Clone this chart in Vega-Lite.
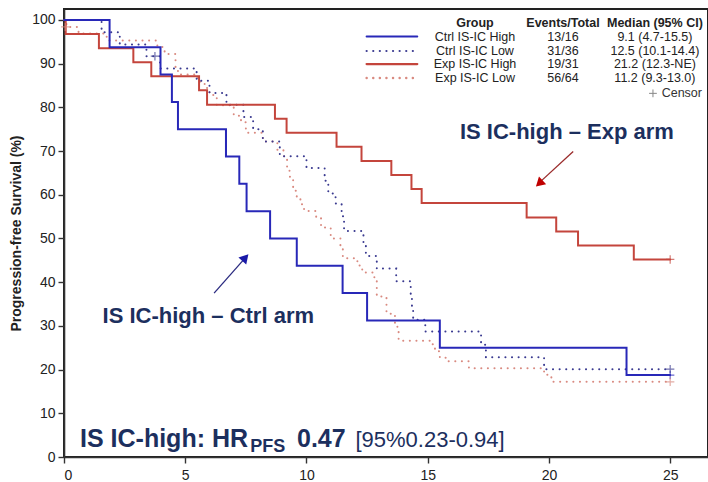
{
  "$schema": "https://vega.github.io/schema/vega-lite/v6.json",
  "width": 644,
  "height": 448,
  "autosize": {"type": "none"},
  "padding": {"left": 64, "top": 9, "right": 0, "bottom": 25},
  "background": "white",
  "config": {
    "font": "Liberation Sans",
    "view": {"stroke": "#222222", "strokeWidth": 2},
    "axis": {"grid": false, "domainColor": "#333333", "domainWidth": 1.6, "tickColor": "#333333", "tickWidth": 1.4, "tickSize": 6, "labelFontSize": 14, "labelColor": "#222222", "labelFont": "Liberation Sans", "labelPadding": 3}
  },
  "encoding": {
    "x": {"field": "x", "type": "quantitative", "scale": {"domain": [0, 26.56], "nice": false, "zero": false}, "axis": {"values": [0, 5, 10, 15, 20, 25], "title": null, "labelPadding": 5}},
    "y": {"field": "y", "type": "quantitative", "scale": {"domain": [0, 102.5], "nice": false}, "axis": {"values": [0, 10, 20, 30, 40, 50, 60, 70, 80, 90, 100], "title": "Progression-free Survival (%)", "titleFontSize": 14, "titleFontWeight": "bold", "titleColor": "#222222", "titlePadding": 8, "titleFont": "Liberation Sans"}}
  },
  "layer": [
    {
      "data": {"values": [
        {"g": "Exp IS-IC Low", "x": 0, "y": 100}, {"g": "Exp IS-IC Low", "x": 0.1, "y": 98.4}, {"g": "Exp IS-IC Low", "x": 0.6, "y": 96.9}, {"g": "Exp IS-IC Low", "x": 1.76, "y": 95.3}, {"g": "Exp IS-IC Low", "x": 3.85, "y": 93.8}, {"g": "Exp IS-IC Low", "x": 4.15, "y": 92.2}, {"g": "Exp IS-IC Low", "x": 4.6, "y": 89.1}, {"g": "Exp IS-IC Low", "x": 4.7, "y": 87.5}, {"g": "Exp IS-IC Low", "x": 5.5, "y": 85.9}, {"g": "Exp IS-IC Low", "x": 5.8, "y": 84.4}, {"g": "Exp IS-IC Low", "x": 6.0, "y": 82.8}, {"g": "Exp IS-IC Low", "x": 6.3, "y": 80.5}, {"g": "Exp IS-IC Low", "x": 7.0, "y": 78.1}, {"g": "Exp IS-IC Low", "x": 7.3, "y": 76.6}, {"g": "Exp IS-IC Low", "x": 7.5, "y": 74.2}, {"g": "Exp IS-IC Low", "x": 8.2, "y": 72.2}, {"g": "Exp IS-IC Low", "x": 8.8, "y": 70.3}, {"g": "Exp IS-IC Low", "x": 9.05, "y": 68.8}, {"g": "Exp IS-IC Low", "x": 9.2, "y": 65.6}, {"g": "Exp IS-IC Low", "x": 9.3, "y": 64.1}, {"g": "Exp IS-IC Low", "x": 9.45, "y": 60.9}, {"g": "Exp IS-IC Low", "x": 9.6, "y": 59.4}, {"g": "Exp IS-IC Low", "x": 9.75, "y": 57.8}, {"g": "Exp IS-IC Low", "x": 9.9, "y": 56.3}, {"g": "Exp IS-IC Low", "x": 10.4, "y": 54.7}, {"g": "Exp IS-IC Low", "x": 10.6, "y": 52.5}, {"g": "Exp IS-IC Low", "x": 11.0, "y": 50.0}, {"g": "Exp IS-IC Low", "x": 11.4, "y": 48.4}, {"g": "Exp IS-IC Low", "x": 11.5, "y": 45.5}, {"g": "Exp IS-IC Low", "x": 12.1, "y": 43.8}, {"g": "Exp IS-IC Low", "x": 12.3, "y": 42.2}, {"g": "Exp IS-IC Low", "x": 12.8, "y": 40.6}, {"g": "Exp IS-IC Low", "x": 12.9, "y": 36.7}, {"g": "Exp IS-IC Low", "x": 13.3, "y": 32.8}, {"g": "Exp IS-IC Low", "x": 13.65, "y": 30.5}, {"g": "Exp IS-IC Low", "x": 13.75, "y": 28.6}, {"g": "Exp IS-IC Low", "x": 13.8, "y": 26.6}, {"g": "Exp IS-IC Low", "x": 15.1, "y": 25.8}, {"g": "Exp IS-IC Low", "x": 15.3, "y": 24.2}, {"g": "Exp IS-IC Low", "x": 15.5, "y": 22.7}, {"g": "Exp IS-IC Low", "x": 15.8, "y": 21.9}, {"g": "Exp IS-IC Low", "x": 16.7, "y": 20.3}, {"g": "Exp IS-IC Low", "x": 19.8, "y": 18.8}, {"g": "Exp IS-IC Low", "x": 20.1, "y": 17.2}, {"g": "Exp IS-IC Low", "x": 25.0, "y": 17.2},
        {"g": "Ctrl IS-IC Low", "x": 0, "y": 100}, {"g": "Ctrl IS-IC Low", "x": 1.55, "y": 97.2}, {"g": "Ctrl IS-IC Low", "x": 2.3, "y": 94.4}, {"g": "Ctrl IS-IC Low", "x": 3.4, "y": 91.7}, {"g": "Ctrl IS-IC Low", "x": 3.96, "y": 88.9}, {"g": "Ctrl IS-IC Low", "x": 5.47, "y": 86.1}, {"g": "Ctrl IS-IC Low", "x": 6.0, "y": 83.3}, {"g": "Ctrl IS-IC Low", "x": 6.7, "y": 80.6}, {"g": "Ctrl IS-IC Low", "x": 7.4, "y": 77.8}, {"g": "Ctrl IS-IC Low", "x": 7.8, "y": 75.0}, {"g": "Ctrl IS-IC Low", "x": 8.2, "y": 72.2}, {"g": "Ctrl IS-IC Low", "x": 8.9, "y": 68.8}, {"g": "Ctrl IS-IC Low", "x": 10.0, "y": 66.1}, {"g": "Ctrl IS-IC Low", "x": 10.75, "y": 63.2}, {"g": "Ctrl IS-IC Low", "x": 10.9, "y": 60.3}, {"g": "Ctrl IS-IC Low", "x": 11.2, "y": 58.0}, {"g": "Ctrl IS-IC Low", "x": 11.45, "y": 55.1}, {"g": "Ctrl IS-IC Low", "x": 11.55, "y": 51.7}, {"g": "Ctrl IS-IC Low", "x": 12.35, "y": 48.8}, {"g": "Ctrl IS-IC Low", "x": 12.45, "y": 46.0}, {"g": "Ctrl IS-IC Low", "x": 12.9, "y": 43.1}, {"g": "Ctrl IS-IC Low", "x": 13.7, "y": 40.2}, {"g": "Ctrl IS-IC Low", "x": 14.3, "y": 37.3}, {"g": "Ctrl IS-IC Low", "x": 14.35, "y": 34.4}, {"g": "Ctrl IS-IC Low", "x": 14.4, "y": 31.4}, {"g": "Ctrl IS-IC Low", "x": 14.9, "y": 28.7}, {"g": "Ctrl IS-IC Low", "x": 17.2, "y": 25.7}, {"g": "Ctrl IS-IC Low", "x": 17.4, "y": 22.8}, {"g": "Ctrl IS-IC Low", "x": 19.8, "y": 20.1}, {"g": "Ctrl IS-IC Low", "x": 25.0, "y": 20.1},
        {"g": "Exp IS-IC High", "x": 0, "y": 100}, {"g": "Exp IS-IC High", "x": 0.07, "y": 96.8}, {"g": "Exp IS-IC High", "x": 1.44, "y": 93.5}, {"g": "Exp IS-IC High", "x": 2.86, "y": 90.3}, {"g": "Exp IS-IC High", "x": 3.6, "y": 87.1}, {"g": "Exp IS-IC High", "x": 5.57, "y": 83.9}, {"g": "Exp IS-IC High", "x": 5.9, "y": 80.6}, {"g": "Exp IS-IC High", "x": 8.7, "y": 77.4}, {"g": "Exp IS-IC High", "x": 9.18, "y": 74.2}, {"g": "Exp IS-IC High", "x": 11.24, "y": 71.0}, {"g": "Exp IS-IC High", "x": 12.27, "y": 67.7}, {"g": "Exp IS-IC High", "x": 13.5, "y": 64.5}, {"g": "Exp IS-IC High", "x": 14.33, "y": 61.3}, {"g": "Exp IS-IC High", "x": 14.75, "y": 58.1}, {"g": "Exp IS-IC High", "x": 19.08, "y": 54.8}, {"g": "Exp IS-IC High", "x": 20.3, "y": 51.6}, {"g": "Exp IS-IC High", "x": 21.2, "y": 48.4}, {"g": "Exp IS-IC High", "x": 23.5, "y": 45.2}, {"g": "Exp IS-IC High", "x": 25.0, "y": 45.2},
        {"g": "Ctrl IS-IC High", "x": 0, "y": 100}, {"g": "Ctrl IS-IC High", "x": 1.88, "y": 93.75}, {"g": "Ctrl IS-IC High", "x": 3.98, "y": 87.5}, {"g": "Ctrl IS-IC High", "x": 4.45, "y": 81.25}, {"g": "Ctrl IS-IC High", "x": 4.7, "y": 75}, {"g": "Ctrl IS-IC High", "x": 6.68, "y": 68.75}, {"g": "Ctrl IS-IC High", "x": 7.23, "y": 62.5}, {"g": "Ctrl IS-IC High", "x": 7.53, "y": 56.25}, {"g": "Ctrl IS-IC High", "x": 8.5, "y": 50}, {"g": "Ctrl IS-IC High", "x": 9.6, "y": 43.75}, {"g": "Ctrl IS-IC High", "x": 11.49, "y": 37.5}, {"g": "Ctrl IS-IC High", "x": 12.5, "y": 31.25}, {"g": "Ctrl IS-IC High", "x": 15.5, "y": 25}, {"g": "Ctrl IS-IC High", "x": 23.2, "y": 18.75}, {"g": "Ctrl IS-IC High", "x": 25.0, "y": 18.75}
      ]},
      "mark": {"type": "line", "interpolate": "step-after", "strokeWidth": 2, "strokeCap": "round"},
      "encoding": {
        "color": {"field": "g", "type": "nominal", "scale": {"domain": ["Ctrl IS-IC High", "Ctrl IS-IC Low", "Exp IS-IC High", "Exp IS-IC Low"], "range": ["#2828b8", "#3a3a90", "#c4453c", "#d98a80"]}, "legend": null},
        "strokeDash": {"field": "g", "type": "nominal", "scale": {"domain": ["Ctrl IS-IC High", "Ctrl IS-IC Low", "Exp IS-IC High", "Exp IS-IC Low"], "range": [[1, 0], [0.1, 6.5], [1, 0], [0.1, 6.5]]}, "legend": null},
        "strokeWidth": {"field": "g", "type": "nominal", "scale": {"domain": ["Ctrl IS-IC High", "Ctrl IS-IC Low", "Exp IS-IC High", "Exp IS-IC Low"], "range": [2, 2.4, 2, 2.4]}, "legend": null}
      }
    },
    {
      "data": {"values": [
        {"g": "Ctrl IS-IC High", "x": 12.48, "y": 96.2}, {"g": "Ctrl IS-IC High", "x": 14.57, "y": 96.2},
        {"g": "Ctrl IS-IC Low", "x": 12.48, "y": 92.9}, {"g": "Ctrl IS-IC Low", "x": 14.57, "y": 92.9},
        {"g": "Exp IS-IC High", "x": 12.48, "y": 89.9}, {"g": "Exp IS-IC High", "x": 14.57, "y": 89.9},
        {"g": "Exp IS-IC Low", "x": 12.48, "y": 86.7}, {"g": "Exp IS-IC Low", "x": 14.57, "y": 86.7}
      ]},
      "mark": {"type": "line", "strokeCap": "round"},
      "encoding": {
        "color": {"field": "g", "type": "nominal", "legend": null},
        "strokeDash": {"field": "g", "type": "nominal", "legend": null},
        "strokeWidth": {"field": "g", "type": "nominal", "legend": null}
      }
    },
    {
      "data": {"values": [
        {"g": "Ctrl IS-IC High", "x": 25.0, "y": 18.75},
        {"g": "Ctrl IS-IC Low", "x": 25.0, "y": 20.1},
        {"g": "Ctrl IS-IC Low", "x": 3.75, "y": 91.7},
        {"g": "Exp IS-IC High", "x": 25.0, "y": 45.2},
        {"g": "Exp IS-IC Low", "x": 25.0, "y": 17.2},
        {"g": "Exp IS-IC Low", "x": 0.05, "y": 98.4}
      ]},
      "mark": {"type": "point", "shape": "M-1,0L1,0M0,-1L0,1", "filled": false, "size": 70, "strokeWidth": 1.2},
      "encoding": {"color": {"field": "g", "type": "nominal", "legend": null}}
    },
    {
      "data": {"values": [{"x": 24.29, "y": 83.2}]},
      "mark": {"type": "point", "shape": "M-1,0L1,0M0,-1L0,1", "filled": false, "size": 60, "strokeWidth": 1, "color": "#555555"}
    },
    {
      "data": {"values": [
        {"x": 16.95, "y": 99.4, "label": "Group"},
        {"x": 20.58, "y": 99.4, "label": "Events/Total"},
        {"x": 24.37, "y": 99.4, "label": "Median (95% CI)"}
      ]},
      "mark": {"type": "text", "fontSize": 12.5, "fontWeight": "bold", "color": "#222222", "align": "center", "baseline": "middle"},
      "encoding": {"text": {"field": "label"}}
    },
    {
      "data": {"values": [
        {"x": 16.95, "y": 96.2, "label": "Ctrl IS-IC High"},
        {"x": 16.95, "y": 92.9, "label": "Ctrl IS-IC Low"},
        {"x": 16.95, "y": 89.9, "label": "Exp IS-IC High"},
        {"x": 16.95, "y": 86.7, "label": "Exp IS-IC Low"},
        {"x": 20.58, "y": 96.2, "label": "13/16"},
        {"x": 20.58, "y": 92.9, "label": "31/36"},
        {"x": 20.58, "y": 89.9, "label": "19/31"},
        {"x": 20.58, "y": 86.7, "label": "56/64"},
        {"x": 24.37, "y": 96.2, "label": "9.1 (4.7-15.5)"},
        {"x": 24.37, "y": 92.9, "label": "12.5 (10.1-14.4)"},
        {"x": 24.37, "y": 89.9, "label": "21.2 (12.3-NE)"},
        {"x": 24.37, "y": 86.7, "label": "11.2 (9.3-13.0)"}
      ]},
      "mark": {"type": "text", "fontSize": 12.5, "color": "#222222", "align": "center", "baseline": "middle"},
      "encoding": {"text": {"field": "label"}}
    },
    {
      "data": {"values": [{"x": 24.65, "y": 83.2, "label": "Censor"}]},
      "mark": {"type": "text", "fontSize": 12.5, "color": "#333333", "align": "left", "baseline": "middle"},
      "encoding": {"text": {"field": "label"}}
    },
    {
      "data": {"values": [{"x": 21.0, "y": 69.9, "x2": 19.65, "y2": 63.0}]},
      "mark": {"type": "rule", "color": "#9a2a2a", "strokeWidth": 1.3},
      "encoding": {"x2": {"field": "x2"}, "y2": {"field": "y2"}}
    },
    {
      "data": {"values": [{"x": 19.6, "y": 62.6}]},
      "mark": {"type": "point", "shape": "triangle-up", "filled": true, "size": 110, "angle": 227, "color": "#c00000", "opacity": 1}
    },
    {
      "data": {"values": [{"x": 6.19, "y": 37.5, "x2": 7.42, "y2": 45.2}]},
      "mark": {"type": "rule", "color": "#2a2a80", "strokeWidth": 1.3},
      "encoding": {"x2": {"field": "x2"}, "y2": {"field": "y2"}}
    },
    {
      "data": {"values": [{"x": 7.48, "y": 45.6}]},
      "mark": {"type": "point", "shape": "triangle-up", "filled": true, "size": 110, "angle": 42, "color": "#1a1aa8", "opacity": 1}
    },
    {
      "data": {"values": [
        {"x": 20.74, "y": 72.7, "label": "IS IC-high – Exp arm"},
        {"x": 5.95, "y": 30.7, "label": "IS IC-high – Ctrl arm"}
      ]},
      "mark": {"type": "text", "fontSize": 22, "fontWeight": "bold", "color": "#1c2f5e", "align": "center", "baseline": "alphabetic"},
      "encoding": {"text": {"field": "label"}}
    },
    {
      "data": {"values": [
        {"x": 0.66, "y": 2.4, "label": "IS IC-high: HR"},
        {"x": 9.61, "y": 2.4, "label": "0.47"}
      ]},
      "mark": {"type": "text", "fontSize": 25, "fontWeight": "bold", "color": "#1c2f5e", "align": "left", "baseline": "alphabetic"},
      "encoding": {"text": {"field": "label"}}
    },
    {
      "data": {"values": [{"x": 7.68, "y": 1.14, "label": "PFS"}]},
      "mark": {"type": "text", "fontSize": 18, "fontWeight": "bold", "color": "#1c2f5e", "align": "left", "baseline": "alphabetic"},
      "encoding": {"text": {"field": "label"}}
    },
    {
      "data": {"values": [{"x": 12.02, "y": 2.4, "label": "[95%0.23-0.94]"}]},
      "mark": {"type": "text", "fontSize": 22, "color": "#1c2f5e", "align": "left", "baseline": "alphabetic"},
      "encoding": {"text": {"field": "label"}}
    }
  ]
}
